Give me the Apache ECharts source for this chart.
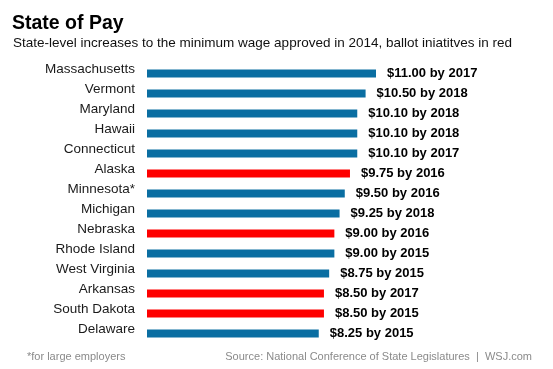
<!DOCTYPE html>
<html>
<head>
<meta charset="utf-8">
<script src="https://cdn.jsdelivr.net/npm/echarts@6/dist/echarts.min.js"></script>
<style>
html,body{margin:0;padding:0;background:#fff;}
#c{width:553px;height:369px;}
</style>
</head>
<body>
<div id="c"></div>
<script>
const states = ['Massachusetts','Vermont','Maryland','Hawaii','Connecticut','Alaska','Minnesota*','Michigan','Nebraska','Rhode Island','West Virginia','Arkansas','South Dakota','Delaware'];
const wages = [11.00,10.50,10.10,10.10,10.10,9.75,9.50,9.25,9.00,9.00,8.75,8.50,8.50,8.25];
const years = [2017,2018,2018,2018,2017,2016,2016,2018,2016,2015,2015,2017,2015,2015];
const ballot = [false,false,false,false,false,true,false,false,true,false,false,true,true,false];

const BLUE = '#0a6ea2';
const RED = '#fe0000';
const FONT = '"Liberation Sans", Arial, sans-serif';

const chart = echarts.init(document.getElementById('c'), null, {renderer:'canvas'});
chart.setOption({
  backgroundColor:'#ffffff',
  animation:false,
  title:[
    {text:'State of Pay', left:7, top:9, textStyle:{fontFamily:FONT, fontSize:19.5, fontWeight:'bold', color:'#000'}},
    {text:'State-level increases to the minimum wage approved in 2014, ballot iniatitves in red', left:8, top:31, textStyle:{fontFamily:FONT, fontSize:13.5, fontWeight:'normal', color:'#111'}},
    {text:'*for large employers', left:22, top:346, textStyle:{fontFamily:FONT, fontSize:11, fontWeight:'normal', color:'#8a8a8a'}},
    {text:'Source: National Conference of State Legislatures  |  WSJ.com', right:16, top:346, textStyle:{fontFamily:FONT, fontSize:11, fontWeight:'normal', color:'#8a8a8a'}}
  ],
  grid:{left:147, width:229, top:63.5, height:280, containLabel:false},
  xAxis:{type:'value', min:0, max:11, show:false},
  yAxis:{type:'category', data:states, inverse:true,
    axisLine:{show:false}, axisTick:{show:false}, splitLine:{show:false},
    axisLabel:{margin:12, fontFamily:FONT, fontSize:13.5, color:'#1a1a1a', verticalAlign:'bottom', lineHeight:8}},
  series:[{
    type:'bar',
    barWidth:8,
    data:wages.map((v,i)=>({value:v, itemStyle:{color: ballot[i]?RED:BLUE}})),
    label:{show:true, position:'right', distance:11, fontFamily:FONT, fontSize:13, fontWeight:'bold', color:'#000',
      formatter:p=>'$'+wages[p.dataIndex].toFixed(2)+' by '+years[p.dataIndex]}
  }]
});
</script>
</body>
</html>
